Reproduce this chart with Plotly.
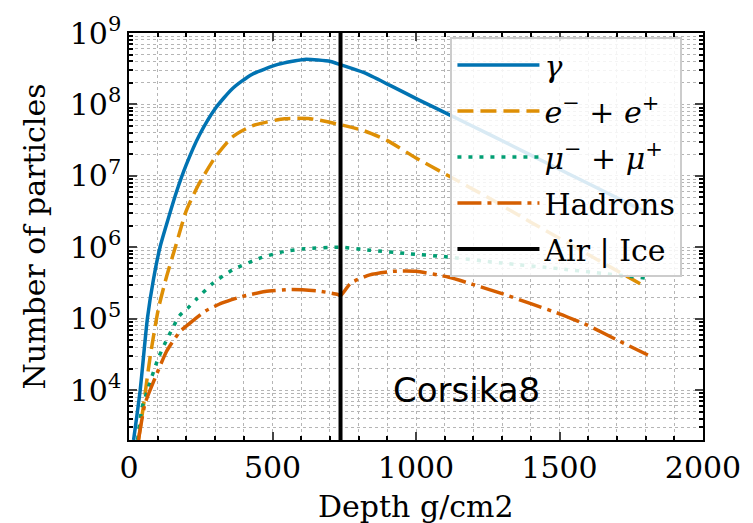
import plotly.graph_objects as go

# ---- data ----
gamma_x = [16, 39, 64, 85, 108, 131, 165, 199, 245, 302, 360, 428, 519, 611, 702, 737, 817, 908, 1011, 1115, 1250, 1400, 1600, 1800]
gamma_y = [2.0e3, 1.0e4, 1.0e5, 3.5e5, 1.0e6, 2.1e6, 5.9e6, 1.41e7, 3.7e7, 8.9e7, 1.66e8, 2.63e8, 3.63e8, 4.27e8, 4.0e8, 3.6e8, 2.8e8, 1.86e8, 1.15e8, 7.2e7, 3.9e7, 1.95e7, 7.8e6, 3.1e6]

elec_x = [33, 50, 73, 102, 131, 165, 199, 240, 302, 360, 428, 542, 633, 737, 817, 897, 1000, 1113, 1250, 1400, 1600, 1800]
elec_y = [2.0e3, 5.9e3, 2.8e4, 1.35e5, 3.9e5, 1.12e6, 3.2e6, 7.2e6, 1.86e7, 3.5e7, 5.0e7, 6.3e7, 6.3e7, 5.2e7, 4.3e7, 3.16e7, 1.78e7, 1.0e7, 5.0e6, 2.24e6, 7.9e5, 2.8e5]

muon_x = [30, 45, 62, 102, 136, 176, 205, 234, 291, 360, 463, 540, 611, 737, 839, 978, 1097, 1300, 1500, 1800]
muon_y = [2.0e3, 5.6e3, 9.3e3, 2.8e4, 5.5e4, 1.1e5, 1.41e5, 1.86e5, 3.1e5, 4.8e5, 7.2e5, 8.7e5, 9.5e5, 1.0e6, 9.1e5, 8.1e5, 7.4e5, 6.0e5, 5.0e5, 3.7e5]

had_x = [33, 56, 96, 131, 176, 222, 268, 325, 394, 474, 565, 656, 727, 737, 773, 839, 920, 1000, 1115, 1200, 1300, 1400, 1500, 1597, 1711, 1808]
had_y = [2.0e3, 6.5e3, 1.66e4, 3.5e4, 6.5e4, 9.3e4, 1.29e5, 1.66e5, 2.04e5, 2.4e5, 2.57e5, 2.45e5, 2.19e5, 2.09e5, 3.16e5, 4.1e5, 4.6e5, 4.6e5, 3.8e5, 3.0e5, 2.24e5, 1.62e5, 1.17e5, 8.1e4, 4.8e4, 3.1e4]

boundary_depth = 737

x_ticks = [0, 500, 1000, 1500, 2000]
y_ticks = [1e4, 1e5, 1e6, 1e7, 1e8, 1e9]
y_ticktext = ["10<sup>%d</sup>" % e for e in range(4, 10)]
y_minor = [k * 10 ** n for n in range(3, 9) for k in range(2, 10) if k * 10 ** n >= 2000]

FONT = "DejaVu Serif"
FS = 30

fig = go.Figure()

lw = 3.5
fig.add_trace(go.Scatter(x=gamma_x, y=gamma_y, mode="lines", name="<i>γ</i>", legendgroup="a",
                         line=dict(color="#0173B2", width=lw, shape="spline", smoothing=0.6)))
fig.add_trace(go.Scatter(x=elec_x, y=elec_y, mode="lines",
                         name="<i>e</i><sup>−</sup> + <i>e</i><sup>+</sup>", legendgroup="b",
                         line=dict(color="#DE8F05", width=lw, dash="16px,7px", shape="spline", smoothing=0.6)))
fig.add_trace(go.Scatter(x=muon_x, y=muon_y, mode="lines",
                         name="<i>μ</i><sup>−</sup> + <i>μ</i><sup>+</sup>", legendgroup="c",
                         line=dict(color="#029E73", width=lw, dash="4px,7px", shape="spline", smoothing=0.6)))
fig.add_trace(go.Scatter(x=had_x, y=had_y, mode="lines", name="Hadrons", legendgroup="d",
                         line=dict(color="#D55E00", width=lw, dash="24px,6px,4px,6px", shape="spline", smoothing=0.5)))
fig.add_trace(go.Scatter(x=[boundary_depth, boundary_depth], y=[1e2, 1e10], mode="lines", name="Air | Ice",
                         legendgroup="e", line=dict(color="black", width=4)))

fig.add_annotation(x=1177, y=4.0, xref="x", yref="y", text="Corsika8", showarrow=False,
                   font=dict(family="DejaVu Sans", size=34, color="black"))
# x-axis title placed as annotation (plotly constrains axis titles inside the margin)
fig.add_annotation(x=0.5, y=-0.163, xref="paper", yref="paper", xanchor="center", yanchor="middle",
                   text="Depth g/cm2", showarrow=False,
                   font=dict(family=FONT, size=FS, color="black"))

grid = dict(showgrid=True, gridcolor="#b5b5b5", griddash="dot", gridwidth=1)

fig.update_xaxes(range=[0, 2000], tickvals=x_ticks, ticks="inside", ticklen=8, tickwidth=1.5,
                 showline=True, linecolor="black", linewidth=1.5, mirror="allticks",
                 tickfont=dict(family=FONT, size=FS, color="black"),
                 zeroline=False,
                 minor=dict(dtick=100, ticks="inside", ticklen=4, tickcolor="black", **grid),
                 **grid)
fig.update_yaxes(type="log", range=[3.301, 9], tickvals=y_ticks, ticktext=y_ticktext,
                 ticks="inside", ticklen=8, tickwidth=1.5,
                 showline=True, linecolor="black", linewidth=1.5, mirror="allticks",
                 tickfont=dict(family=FONT, size=FS, color="black"),
                 title=dict(text="Number of particles", font=dict(family=FONT, size=FS, color="black"), standoff=15),
                 zeroline=False,
                 minor=dict(tickmode="array", tickvals=y_minor, ticks="inside", ticklen=4, tickcolor="black", **grid),
                 **grid)

fig.update_layout(
    width=753, height=523,
    margin=dict(l=129, r=42, t=23, b=83),
    plot_bgcolor="white", paper_bgcolor="white",
    font=dict(family=FONT, size=FS, color="black"),
    legend=dict(x=0.560, y=0.99, xanchor="left", yanchor="top",
                bgcolor="rgba(255,255,255,0.85)", bordercolor="#cccccc", borderwidth=2,
                font=dict(family=FONT, size=FS, color="black"),
                traceorder="grouped", tracegroupgap=4, itemwidth=82),
)

fig.write_html("out.html")
